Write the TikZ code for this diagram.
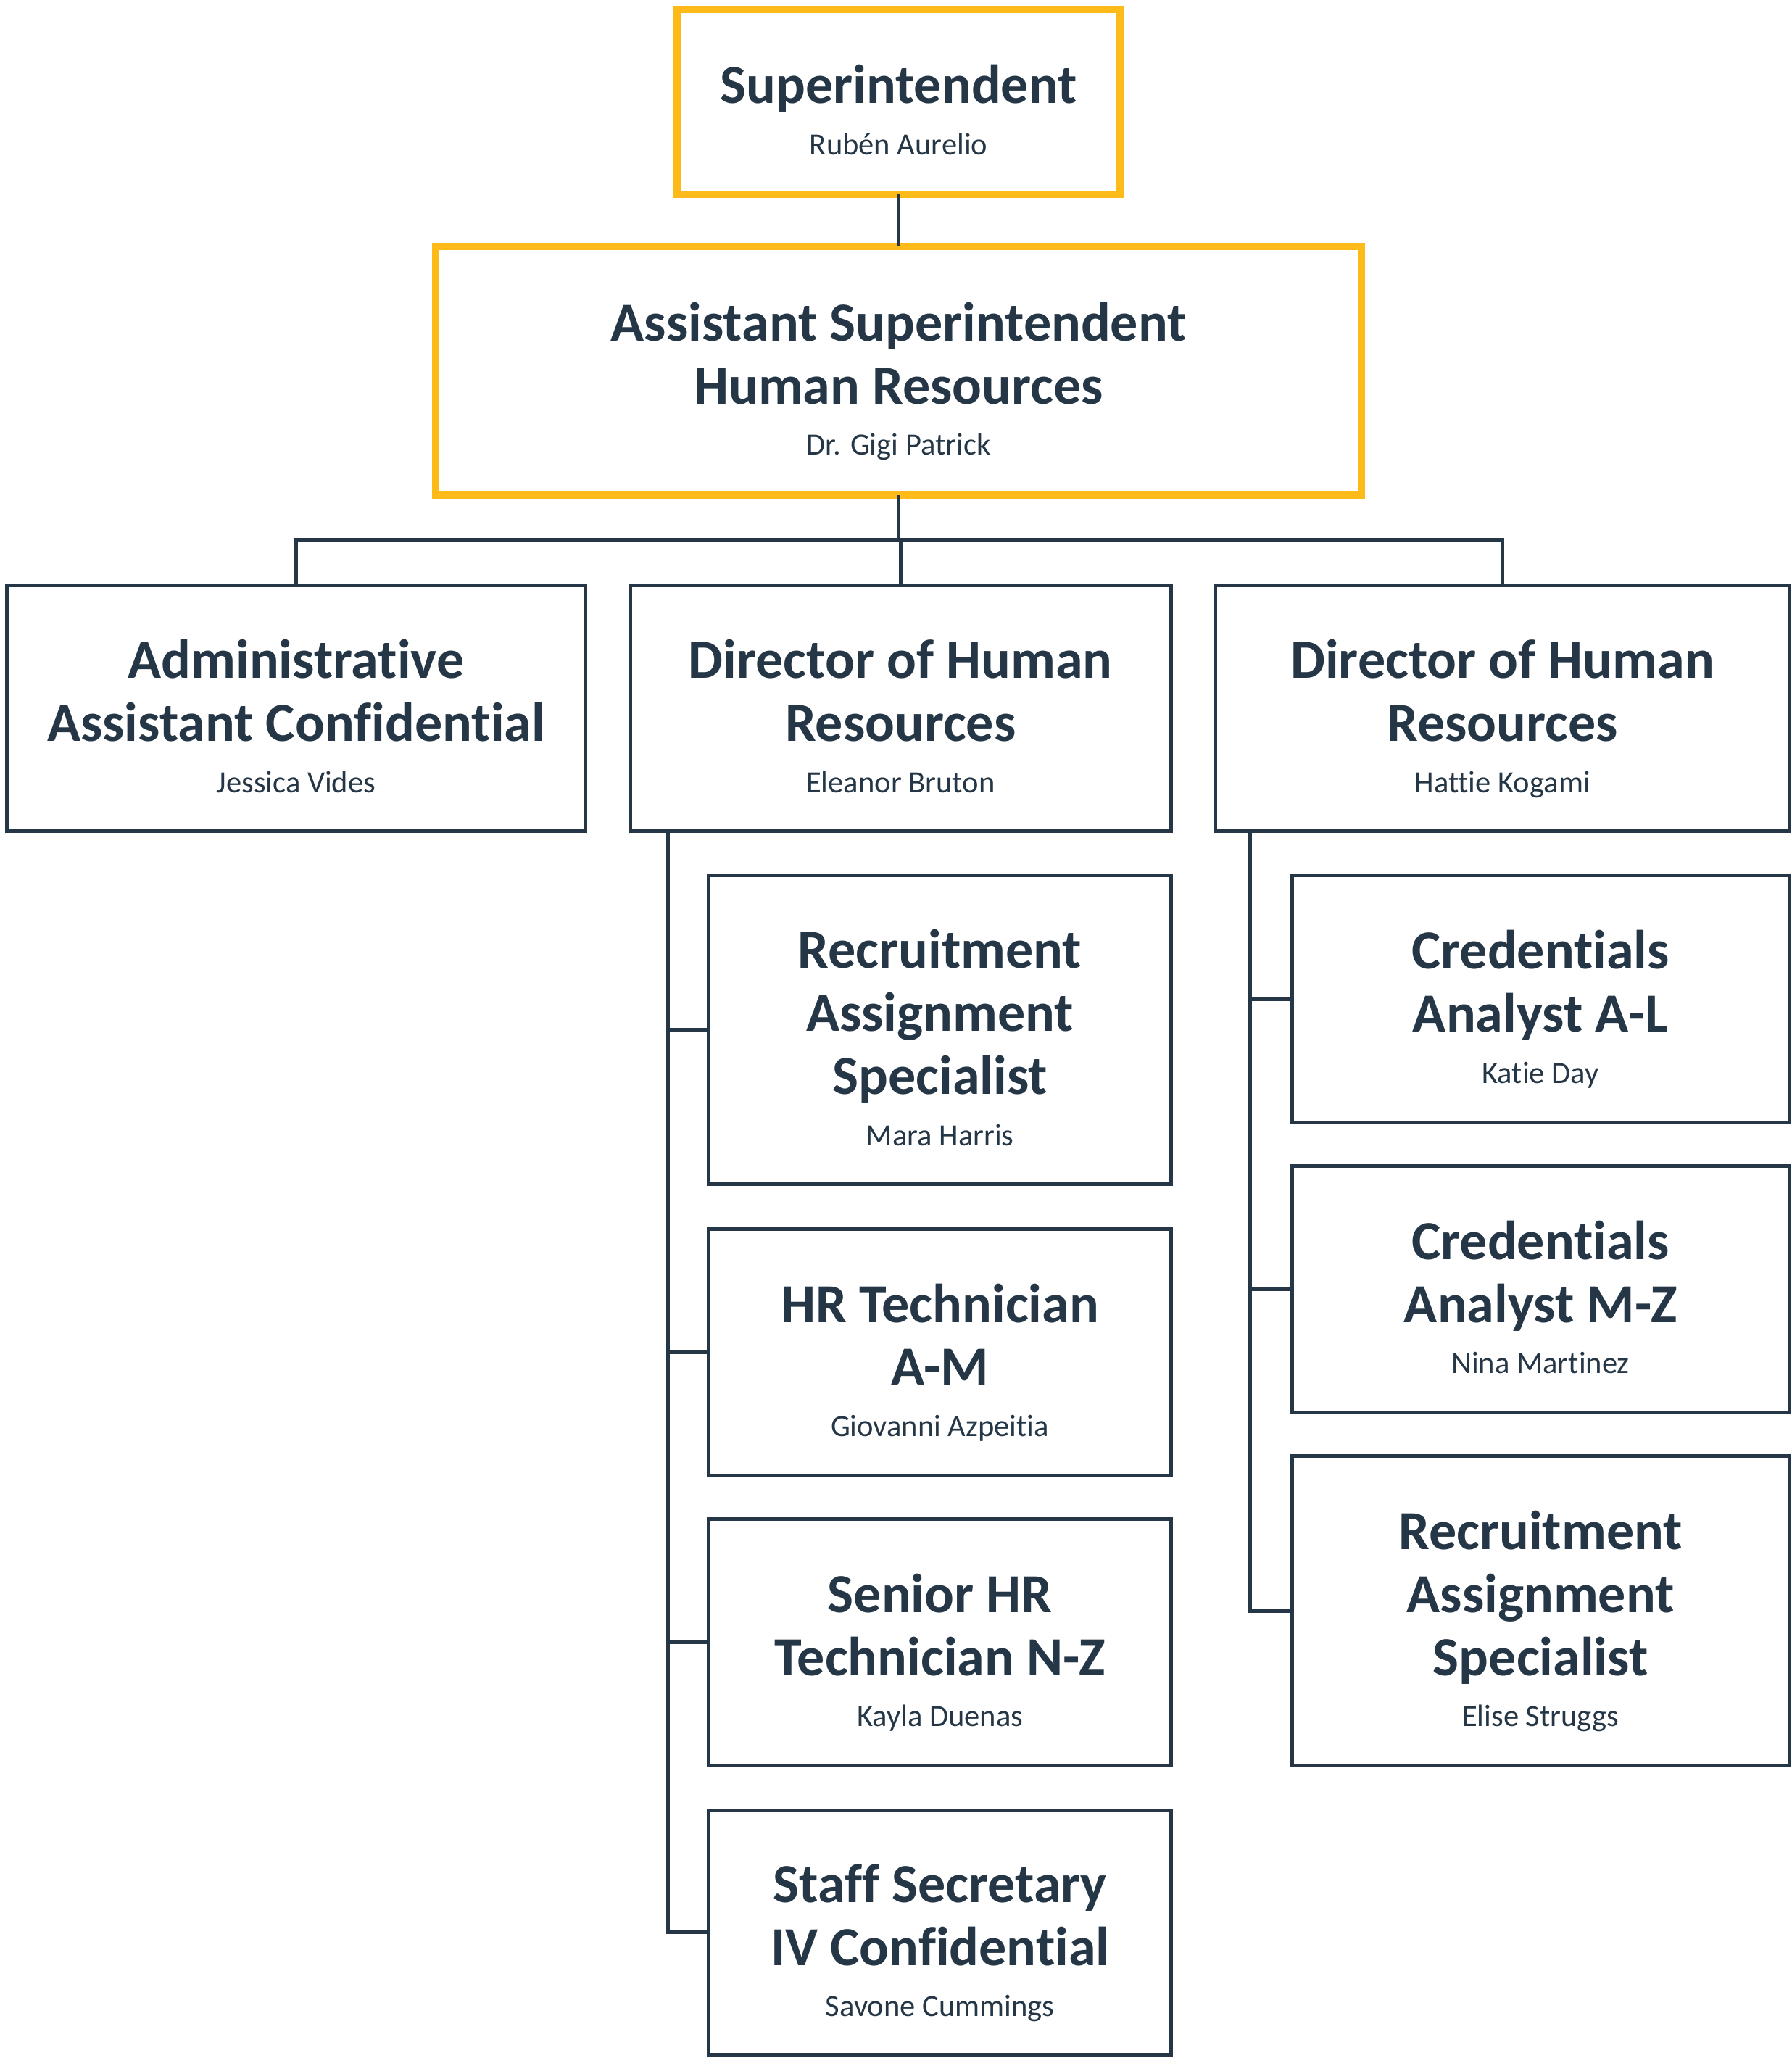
\documentclass[tikz,border=0pt]{standalone}
\usepackage{fontspec}
\setmainfont{Carlito}[Ligatures={NoCommon}]
\definecolor{navy}{RGB}{37,55,70}
\definecolor{gold}{RGB}{253,186,24}
\newcommand\tfont{\fontsize{42}{48}\selectfont\bfseries}
\newcommand\nfont{\fontsize{23.5}{27}\selectfont\mdseries}
\newcommand\nm[1]{{\nfont #1\vphantom{gjy}}}
\begin{document}
\begin{tikzpicture}[x=1pt,y=-1pt,
  cardbox/.style={draw=navy,line width=2.8pt,fill=white,inner sep=0pt,outer sep=0pt},
  goldbox/.style={draw=gold,line width=5.5pt,fill=white,inner sep=0pt,outer sep=0pt},
  cardtext/.style={font=\tfont,text=navy,align=center,inner sep=0pt,yshift=-8pt},
  conn/.style={draw=navy,line width=2.8pt}]
\useasboundingbox (0,0) rectangle (1365,1567.7);
\newcommand\card[7]{%
  \node[#1,minimum width=#5-#3,minimum height=#6-#4] (#2) at ({(#3+#5)/2},{(#4+#6)/2}) {};
  \node[cardtext] (t#2) at (#2.center) {#7};}
% boxes
\card{goldbox}{sup}{516}{7}{853}{148}{Superintendent\\[-9pt]\nm{Rubén Aurelio}}
\card{goldbox}{asst}{332}{188}{1037}{377}{Assistant Superintendent\\Human Resources\\[-9pt]\nm{Dr. Gigi Patrick}}
\card{cardbox}{adm}{5}{446}{446}{633}{Administrative\\Assistant Confidential\\[-9pt]\nm{Jessica Vides}}
\card{cardbox}{dA}{480}{446}{892}{633}{Director of Human\\Resources\\[-9pt]\nm{Eleanor Bruton}}
\card{cardbox}{dB}{926}{446}{1363}{633}{Director of Human\\Resources\\[-9pt]\nm{Hattie Kogami}}
\card{cardbox}{recA}{540}{667}{892}{902}{Recruitment\\Assignment\\Specialist\\[-9pt]\nm{Mara Harris}}
\card{cardbox}{hrt}{540}{936}{892}{1124}{HR Technician\\A-M\\[-9pt]\nm{Giovanni Azpeitia}}
\card{cardbox}{shr}{540}{1157}{892}{1345}{Senior HR\\Technician N-Z\\[-9pt]\nm{Kayla Duenas}}
\card{cardbox}{stf}{540}{1379}{892}{1565}{Staff Secretary\\IV Confidential\\[-9pt]\nm{Savone Cummings}}
\card{cardbox}{cal}{984}{667}{1363}{855}{Credentials\\Analyst A-L\\[-9pt]\nm{Katie Day}}
\card{cardbox}{cmz}{984}{888}{1363}{1076}{Credentials\\Analyst M-Z\\[-9pt]\nm{Nina Martinez}}
\card{cardbox}{recB}{984}{1109}{1363}{1345}{Recruitment\\Assignment\\Specialist\\[-9pt]\nm{Elise Struggs}}
% connectors
\coordinate (bus) at (0,411);
\coordinate (spA) at (509,0);
\coordinate (spB) at (952,0);
\draw[conn] (sup.south) -- (asst.north);
\draw[conn] (asst.south) -- (asst.south |- bus);
\draw[conn] (adm.north) -- (adm.north |- bus) -- (dB.north |- bus) -- (dB.north);
\draw[conn] (dA.north) -- (dA.north |- bus);
\draw[conn] (spA |- dA.south) -- (spA |- stf.west) -- (stf.west);
\draw[conn] (spA |- recA.west) -- (recA.west);
\draw[conn] (spA |- hrt.west) -- (hrt.west);
\draw[conn] (spA |- shr.west) -- (shr.west);
\draw[conn] (spB |- dB.south) -- (spB |- recB.west) -- (recB.west);
\draw[conn] (spB |- cal.west) -- (cal.west);
\draw[conn] (spB |- cmz.west) -- (cmz.west);
\end{tikzpicture}
\end{document}
